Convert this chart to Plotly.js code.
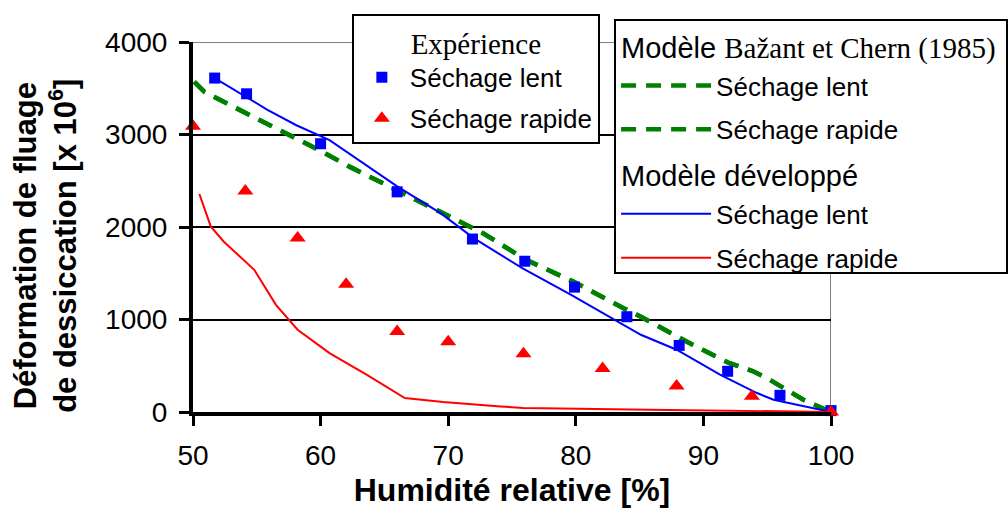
<!DOCTYPE html>
<html>
<head>
<meta charset="utf-8">
<script src="https://cdn.plot.ly/plotly-3.0.1.min.js"></script>
<style>html,body{margin:0;padding:0;background:#fff;}#chart{width:1008px;height:510px;}</style>
</head>
<body>
<div id="chart"></div>
<script>
// Experimental data
const xExpLent = [51.7, 54.2, 60.0, 66.0, 71.9, 76.0, 79.9, 84.0, 88.1, 91.9, 96.0, 100];
const yExpLent = [3610, 3440, 2900, 2380, 1870, 1630, 1350, 1030, 720, 440, 180, 15];
const xExpRapide = [50.0, 54.1, 58.2, 62.0, 66.0, 70.0, 75.9, 82.1, 87.9, 93.8, 100];
const yExpRapide = [3090, 2390, 1880, 1380, 870, 760, 630, 470, 280, 170, 0];
// Bažant et Chern (1985) model
const xBazant = [50.1, 50.9, 52.6, 56.5, 59.9, 62.3, 66.5, 69.6, 72.7, 76.1, 79.8, 83.7, 85.1, 88.9, 92.0, 93.9, 95.0, 97.8, 100];
const yBazant = [3570, 3460, 3340, 3070, 2830, 2650, 2365, 2150, 1935, 1645, 1410, 1125, 1030, 745, 530, 440, 365, 135, 0];
// Developed model
const xDevLent = [51.7, 52.3, 54.2, 55.8, 58.1, 60.7, 66.0, 69.4, 72.0, 75.8, 79.6, 83.5, 85.1, 87.9, 91.3, 94.2, 95.5, 100];
const yDevLent = [3610, 3560, 3400, 3270, 3100, 2940, 2440, 2150, 1880, 1555, 1270, 960, 835, 673, 403, 205, 133, 0];
const xDevRapide = [50.5, 51.4, 52.4, 54.8, 56.5, 58.2, 60.7, 63.6, 66.6, 69.6, 74.1, 75.9, 85.8, 100];
const yDevRapide = [2357, 2004, 1843, 1537, 1159, 889, 637, 403, 151, 108, 60, 43, 25, 0];
// Ticks and titles
const xTicks = [50, 60, 70, 80, 90, 100];
const yTicks = [0, 1000, 2000, 3000, 4000];
const xTitle = 'Humidité relative [%]';
const yTitle = 'Déformation de fluage<br>de dessiccation [x 10<sup>6</sup>]';

const SANS = 'Liberation Sans, Arial, sans-serif';
const SERIF = 'Liberation Serif, Times New Roman, serif';
const GREEN = '#008000';

const traces = [
  {x: xBazant, y: yBazant, type: 'scatter', mode: 'lines', name: 'Séchage lent',
   line: {color: GREEN, width: 4.5, dash: '15px,10px'}, legend: 'legend2', legendgroup: 'b1',
   legendgrouptitle: {text: 'Modèle <span style="font-family:\'Liberation Serif\',serif">Bažant et Chern (1985)</span>', font: {family: SANS, size: 29, color: '#000'}}},
  {x: xBazant, y: yBazant, type: 'scatter', mode: 'lines', name: 'Séchage rapide',
   line: {color: GREEN, width: 4.5, dash: '15px,10px'}, legend: 'legend2', legendgroup: 'b2'},
  {x: xDevLent, y: yDevLent, type: 'scatter', mode: 'lines', name: 'Séchage lent',
   line: {color: '#0000FF', width: 2}, legend: 'legend2', legendgroup: 'd1',
   legendgrouptitle: {text: 'Modèle développé', font: {family: SANS, size: 29, color: '#000'}}},
  {x: xDevRapide, y: yDevRapide, type: 'scatter', mode: 'lines', name: 'Séchage rapide',
   line: {color: '#FF0000', width: 2}, legend: 'legend2', legendgroup: 'd2'},
  {x: xExpLent, y: yExpLent, type: 'scatter', mode: 'markers', name: 'Séchage lent', cliponaxis: false,
   marker: {symbol: 'square', size: 11, color: '#0000FF'}, legend: 'legend', legendgroup: 'e1'},
  {x: xExpRapide, y: yExpRapide, type: 'scatter', mode: 'markers', name: 'Séchage rapide', cliponaxis: false,
   marker: {symbol: 'triangle-up', size: 14, color: '#FF0000'}, legend: 'legend', legendgroup: 'e2'}
];

const layout = {
  width: 1008, height: 510,
  margin: {l: 193, r: 177, t: 42, b: 98, autoexpand: false},
  paper_bgcolor: '#fff', plot_bgcolor: '#fff',
  font: {family: SANS, color: '#000'},
  xaxis: {
    range: [50, 100], tickvals: xTicks, ticktext: xTicks.map(String),
    ticks: 'outside', ticklen: 10, tickwidth: 3, tickcolor: '#000',
    showline: true, linewidth: 4, linecolor: '#000', showgrid: false, zeroline: false,
    tickfont: {family: SANS, size: 28, color: '#000'}, ticklabelstandoff: 5,
    title: {text: '<b>' + xTitle + '</b>', font: {family: SANS, size: 32, color: '#000'}, standoff: 10}
  },
  xaxis2: {
    overlaying: 'x', anchor: 'y', side: 'bottom', range: [50, 100], tickvals: xTicks,
    ticks: 'inside', ticklen: 10, tickwidth: 3, tickcolor: '#000',
    showticklabels: false, showline: false, showgrid: false, zeroline: false
  },
  yaxis: {
    range: [0, 4000], tickvals: yTicks, ticktext: yTicks.map(String),
    ticks: 'outside', ticklen: 10, tickwidth: 3, tickcolor: '#000',
    showline: true, linewidth: 4, linecolor: '#000',
    showgrid: true, gridcolor: '#000', gridwidth: 2, zeroline: false,
    tickfont: {family: SANS, size: 28, color: '#000'}, ticklabelstandoff: 6
  },
  annotations: [
    {text: '<b>' + yTitle + '</b>', textangle: -90, xref: 'paper', yref: 'paper',
     x: -0.2304, y: 0.449, xanchor: 'center', yanchor: 'middle', align: 'center', showarrow: false,
     font: {family: SANS, size: 31, color: '#000'}}
  ],
  shapes: [
    {type: 'line', xref: 'x', yref: 'y', x0: 50, x1: 100, y0: 4000, y1: 4000, layer: 'below', line: {color: '#808080', width: 2}},
    {type: 'line', xref: 'x', yref: 'y', x0: 100, x1: 100, y0: 0, y1: 4000, layer: 'below', line: {color: '#808080', width: 2}}
  ],
  showlegend: true,
  legend: {
    x: 0.249, y: 1.075, xanchor: 'left', yanchor: 'top',
    bgcolor: '#fff', bordercolor: '#000', borderwidth: 2,
    font: {family: SANS, size: 26, color: '#000'},
    title: {text: 'Expérience', side: 'top center', font: {family: SERIF, size: 29, color: '#000'}},
    traceorder: 'grouped', tracegroupgap: 4, itemwidth: 46
  },
  legend2: {
    x: 0.66, y: 1.061, xanchor: 'left', yanchor: 'top',
    bgcolor: '#fff', bordercolor: '#000', borderwidth: 2,
    font: {family: SANS, size: 26, color: '#000'},
    traceorder: 'grouped', tracegroupgap: 7, itemwidth: 90
  }
};

Plotly.newPlot('chart', traces, layout, {displayModeBar: false, staticPlot: true});
</script>
</body>
</html>
